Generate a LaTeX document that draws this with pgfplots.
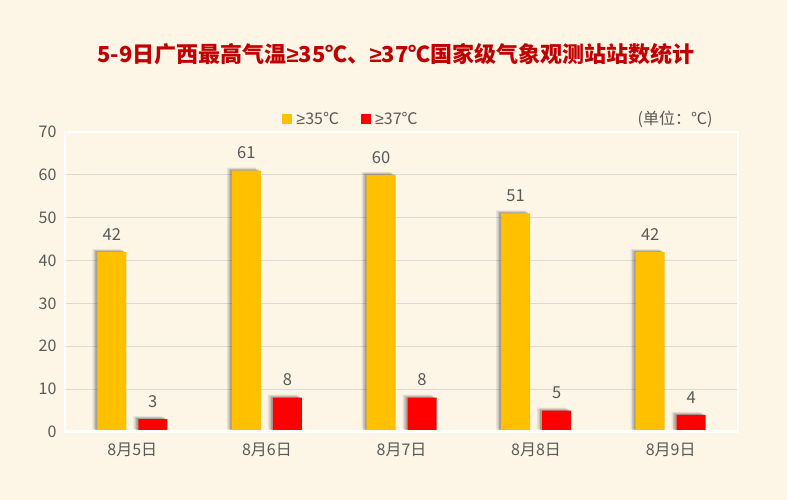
\documentclass[border=0pt]{standalone}
\usepackage{fontspec}
\setmainfont{Noto Sans CJK SC}
\newfontfamily\latinf{Liberation Sans}
\usepackage{pgfplots}
\pgfplotsset{compat=1.18}
\definecolor{bg}{HTML}{FDF5E6}
\definecolor{gold}{HTML}{FFC000}
\definecolor{titlered}{HTML}{C00000}
\definecolor{txt}{HTML}{595959}
\definecolor{gridc}{HTML}{DCDAD6}
\newcommand{\GE}{{\latinf ≥}}
\tikzset{barshadow/.style={
    preaction={fill=black, fill opacity=0.08, transform canvas={xshift=-5pt, yshift=3pt}},
    preaction={fill=black, fill opacity=0.12, transform canvas={xshift=-3.5pt, yshift=2pt}},
    preaction={fill=black, fill opacity=0.18, transform canvas={xshift=-2pt, yshift=1pt}}}}
\begin{document}
\begin{tikzpicture}
\fill[bg] (0pt,0pt) rectangle (787pt,500pt);
\node[font=\fontsize{22}{26}\selectfont\bfseries, text=titlered] at (396pt,446pt)
  {5-9日广西最高气温\GE35℃、\GE37℃国家级气象观测站站数统计};
\node[font=\fontsize{16}{19}\selectfont, text=txt, anchor=east] at (716pt,381pt) {(单位：℃)};
\begin{axis}[
    at={(65pt,68pt)}, anchor=south west,
    scale only axis, width=673pt, height=300pt,
    bar width=29pt,
    xmin=-0.5, xmax=4.5, ymin=0, ymax=70,
    xtick=data,
    xticklabels={8月5日,8月6日,8月7日,8月8日,8月9日},
    ytick={0,10,...,70},
    major tick length=0pt,
    ymajorgrids, grid style={gridc, line width=1pt},
    axis line style={white, line width=1.5pt},
    tick label style={font=\fontsize{16}{19}\selectfont, text=txt},
    /pgf/number format/assume math mode=true,
    yticklabel style={xshift=-5pt},
    xticklabel style={yshift=-7pt},
    nodes near coords,
    every node near coord/.append style={font=\fontsize{16.5}{19}\selectfont, text=txt, yshift=8pt},
    legend style={at={(0.4250,1.043)}, anchor=center, draw=none, fill=none,
        legend columns=2, font=\fontsize{16}{19}\selectfont, text=txt,
        /tikz/every even column/.append style={column sep=20pt},
        /tikz/every odd column/.append style={column sep=0pt}},
    legend image code/.code={\fill[#1] (0pt,-5pt) rectangle (9.5pt,5pt);},
    after end axis/.code={\draw[white, line width=3pt] (rel axis cs:0,0) -- (rel axis cs:1,0);},
  ]
  \addplot[ybar, bar shift=-20.5pt, fill=gold, draw=none, barshadow, forget plot,
      every node near coord/.append style={xshift=-20.5pt}]
    coordinates {(0,42) (1,61) (2,60) (3,51) (4,42)};
  \addplot[ybar, bar shift=20.5pt, fill=red, draw=none, barshadow, forget plot,
      every node near coord/.append style={xshift=20.5pt}]
    coordinates {(0,3) (1,8) (2,8) (3,5) (4,4)};
  \addlegendimage{fill=gold, draw=none}
  \addlegendentry{\,\GE35℃}
  \addlegendimage{fill=red, draw=none}
  \addlegendentry{\,\GE37℃}
\end{axis}
\end{tikzpicture}
\end{document}
